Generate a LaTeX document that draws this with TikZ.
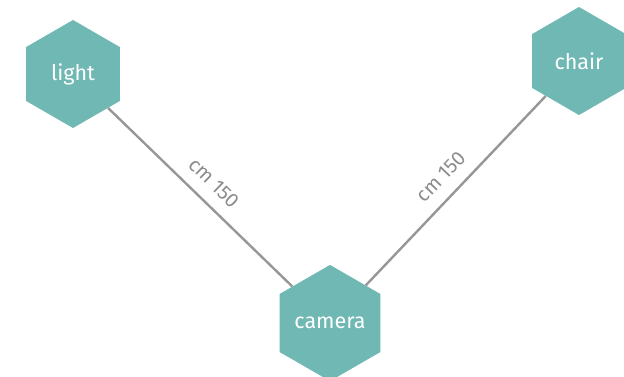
\documentclass[tikz,border=0pt]{standalone}
\usepackage{fontspec}
\setmainfont{Fira Sans}
\usetikzlibrary{shapes.geometric}
\definecolor{hexfill}{HTML}{6FB8B3}
\definecolor{edgegray}{HTML}{979797}
\definecolor{labelgray}{HTML}{8C8C8C}
\tikzset{
  hexnode/.style={regular polygon, regular polygon sides=6, shape border rotate=30,
    minimum size=108pt, inner sep=0pt, fill=hexfill, draw=none,
    text=white, font=\fontsize{21.5}{24}\selectfont},
  link/.style={draw=edgegray, line width=2.4pt},
  dist/.style={midway, sloped, text=labelgray, font=\fontsize{20}{23}\selectfont, yshift=20pt}
}
\begin{document}
\begin{tikzpicture}[x=1pt,y=1pt]
\useasboundingbox[fill=white] (0,0) rectangle (624,376);
\node[hexnode] (light) at (73,302) {light};
\node[hexnode] (chair) at (579,315) {chair};
\node[hexnode] (camera) at (330,53) {camera};
\draw[link] (light) -- node[dist] (l1) {cm 150} (camera);
\draw[link] (camera) -- node[dist] (l2) {cm 150} (chair);
\end{tikzpicture}
\end{document}
